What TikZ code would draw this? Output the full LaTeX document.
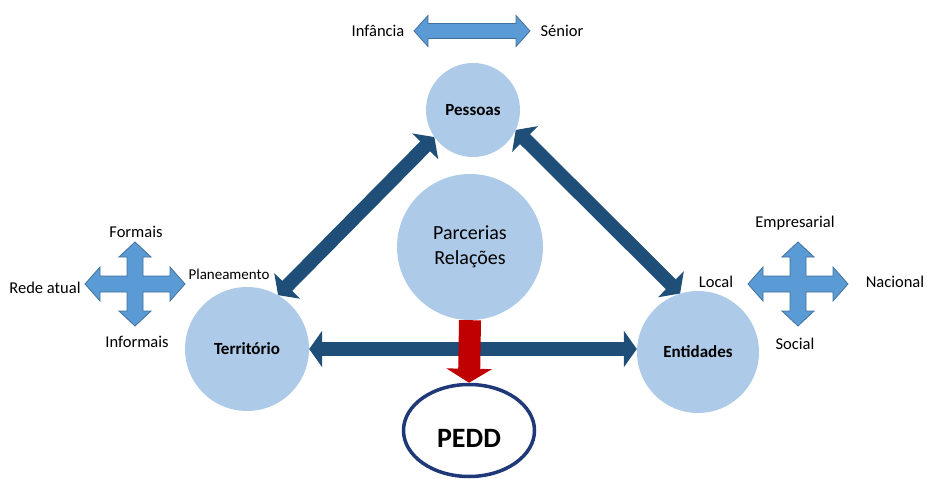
\documentclass[tikz,border=0pt]{standalone}
\usepackage{fontspec}
\setmainfont{Carlito}
\usetikzlibrary{arrows.meta,shapes.geometric}
\definecolor{circblue}{RGB}{173,203,233}
\definecolor{darkarrow}{RGB}{31,78,121}
\definecolor{lightarrow}{RGB}{91,155,213}
\definecolor{arrowedge}{RGB}{65,113,156}
\definecolor{peddblue}{RGB}{31,56,120}
\definecolor{redarrow}{RGB}{192,0,0}
\tikzset{
  pics/quad/.style={code={
    \draw[cross] (50,0) -- (35,17) -- (35,8) -- (8,8) -- (8,27) -- (16,27) -- (0,42) -- (-16,27) -- (-8,27) -- (-8,8)
      -- (-35,8) -- (-35,17) -- (-50,0) -- (-35,-17) -- (-35,-8) -- (-8,-8) -- (-8,-27) -- (-16,-27) -- (0,-42)
      -- (16,-27) -- (8,-27) -- (8,-8) -- (35,-8) -- (35,-17) -- cycle;}}
}

\begin{document}
\begin{tikzpicture}[x=1pt,y=-1pt,
		circ/.style={circle,fill=circblue,inner sep=0pt},
		lab/.style={font=\fontsize{16.5}{19}\selectfont},
		bold/.style={font=\fontsize{17}{20}\selectfont\bfseries},
		cross/.style={fill=lightarrow,draw=arrowedge,line width=0.8pt},
		link/.style={darkarrow,line width=14pt,{Triangle[width=36pt,length=13pt]}-{Triangle[width=36pt,length=13pt]}},
		down/.style={redarrow,line width=22pt,-{Triangle[width=45pt,length=14pt]}}]
				\useasboundingbox (0,0) rectangle (927,479);
				\node[circ,bold,minimum size=94pt] (pes) at (473,110) {Pessoas};
				\node[circ,minimum size=146pt,align=center,font=\fontsize{20}{25}\selectfont] (par) at (470,247) {Parcerias\\Relações};
				\node[circ,bold,minimum size=124pt] (ter) at (247,349) {Território};
				\node[circ,bold,minimum size=122pt] (ent) at (698,352) {Entidades};
				\node[ellipse,draw=peddblue,line width=3.5pt,minimum width=131pt,minimum height=92pt,text height=34pt,text depth=0pt,font=\fontsize{28}{30}\selectfont\bfseries] (pedd) at (469,430.5) {PEDD};
				\node[lab] (inf) at (378,31) {Infância};
				\node[lab] (sen) at (562,31) {Sénior};
				\node[lab] (formais) at (136,232) {Formais};
				\node[lab] (rede) at (45,288) {Rede atual};
				\node[font=\fontsize{15}{18}\selectfont] (plan) at (229,274) {Planeamento};
				\node[lab] (informais) at (137,342) {Informais};
				\node[lab] (emp) at (795,223) {Empresarial};
				\node[lab] (local) at (716,282) {Local};
				\node[lab] (nac) at (895,282) {Nacional};
				\node[lab] (social) at (795,344) {Social};
				\draw[cross,shift={(472,31)}] (58,0) -- (44,15.5) -- (44,7.5) -- (-44,7.5) -- (-44,15.5) -- (-58,0) -- (-44,-15.5) -- (-44,-7.5) -- (44,-7.5) -- (44,-15.5) -- cycle;
				\pic at (135,284) {quad};
				\pic at (798,284) {quad};
				\draw[link] (ter.60) -- (pes.215);
				\draw[link] (pes.335) -- (ent.107);
				\draw[link] (ter.east) -- (ter.east -| ent.west);
				\draw[down] (par.south) -- (pedd.north);
			\end{tikzpicture}
\end{document}
